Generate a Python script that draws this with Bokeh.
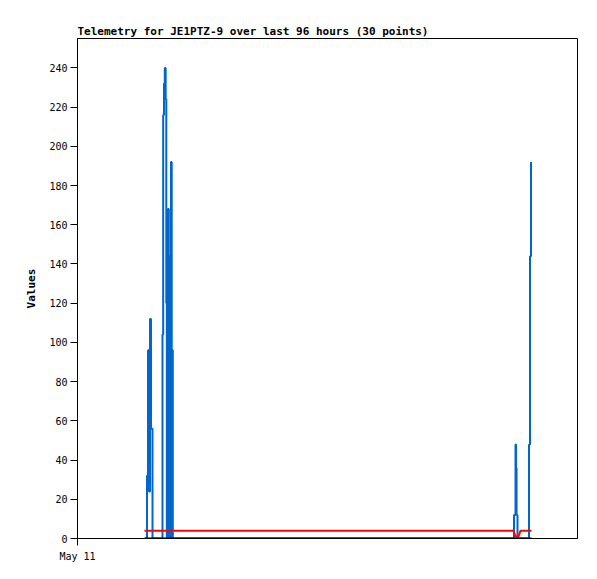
from bokeh.plotting import figure
from bokeh.models import Range1d, FixedTicker
from bokeh.embed import file_html
from bokeh.resources import INLINE

# hours since the start of the 96-hour window (May 11 00:00)
blue_hours = [12.96, 13.34, 13.54, 13.73, 13.92, 14.11, 14.40,
              16.32, 16.45, 16.61, 16.76, 16.93, 17.05, 17.15, 17.38, 17.53, 17.63, 17.76, 17.95, 18.09, 18.20, 18.30,
              83.81, 84.10, 84.20, 84.30, 84.48, 86.69, 86.88, 87.07]
blue_values = [0, 32, 96, 24, 112, 56, 0,
               104, 216, 232, 240, 224, 120, 0, 168, 56, 144, 0, 192, 48, 96, 0,
               12, 48, 36, 12, 0, 48, 144, 192]

red_hours = [12.86, 83.71, 84.10, 84.67, 85.06, 87.17]
red_values = [4, 4, 1, 1, 4, 4]

black_hours = [12.86, 87.17]
black_values = [0, 0]

y_ticks = [0, 20, 40, 60, 80, 100, 120, 140, 160, 180, 200, 220, 240]
x_ticks = [0]
x_tick_labels = {0: "May 11"}

FONT = "DejaVu Sans Mono"

p = figure(width=588, height=568, frame_width=500, frame_height=500,
           min_border_left=77, min_border_top=38, min_border_right=11, min_border_bottom=30,
           x_range=Range1d(0, 96), y_range=Range1d(0, 255),
           output_backend="svg", toolbar_location=None,
           title="Telemetry for JE1PTZ-9 over last 96 hours (30 points)")

p.title.text_font = FONT
p.title.text_font_size = "11px"
p.title.text_font_style = "bold"
p.title.text_color = "black"
p.title.align = "left"
p.title.offset = 0
p.title.standoff = 2

p.xgrid.visible = False
p.ygrid.visible = False
p.outline_line_color = "black"
p.outline_line_width = 1
p.background_fill_color = "white"
p.border_fill_color = "white"

p.yaxis.ticker = FixedTicker(ticks=y_ticks)
p.xaxis.ticker = FixedTicker(ticks=x_ticks)
p.xaxis.major_label_overrides = x_tick_labels
for ax in (p.xaxis, p.yaxis):
    ax.minor_tick_line_color = None
    ax.major_tick_out = 7
    ax.major_tick_in = 0
    ax.major_label_text_font = FONT
    ax.major_label_text_font_size = "10px"
    ax.major_label_text_color = "black"
    ax.axis_line_color = "black"
    ax.major_tick_line_color = "black"

p.yaxis.axis_label = "Values"
p.yaxis.axis_label_text_font = FONT
p.yaxis.axis_label_text_font_size = "11px"
p.yaxis.axis_label_text_font_style = "bold"
p.yaxis.axis_label_text_color = "black"
p.yaxis.axis_label_standoff = 8
p.yaxis.major_label_standoff = 3
p.xaxis.major_label_standoff = 5

p.step(blue_hours, blue_values, mode="after", line_color="#0066cc", line_width=2)
p.line(red_hours, red_values, line_color="#ff0000", line_width=2)
p.line(black_hours, black_values, line_color="black", line_width=2)

open("out.html", "w").write(file_html(p, INLINE))
